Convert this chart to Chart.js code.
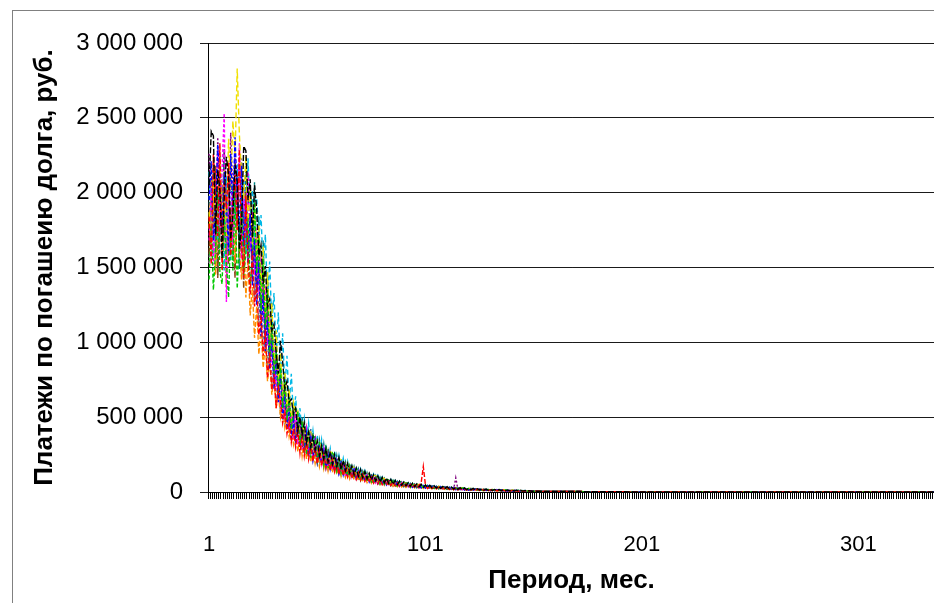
<!DOCTYPE html>
<html>
<head>
<meta charset="UTF-8">
<title>Платежи по погашению долга</title>
<script src="https://cdn.jsdelivr.net/npm/chart.js@4.4.0/dist/chart.umd.min.js"></script>
<style>
html, body { margin:0; padding:0; background:#fff; overflow:hidden; width:934px; height:603px; }
#frame { position:absolute; left:12px; top:10px; width:1000px; height:700px; border:1px solid #808080; }
#wrap { position:absolute; left:0; top:0; width:967px; height:640px; }
</style>
</head>
<body>
<div id="frame"></div>
<div id="wrap"><canvas id="myChart"></canvas></div>
<script>
// периоды 1..336 мес., подписи через каждые 100
var periods = [];
for (var p = 1; p <= 336; p++) periods.push(String(p));
var shownTicks = ['1', '101', '201', '301'];

// платежи, тыс. руб. (периоды 1-150), оценено по картинке
var s1 = [2050,2410,2380,1720,2150,2010,1560,1980,2240,2120,
1690,1850,2190,2080,1620,1780,2310,2280,1950,2090,
1700,2050,1890,1580,1650,1390,1510,1240,1290,1080,
1120,930,790,1010,870,690,740,600,620,520,
560,410,500,380,460,330,400,300,370,280,
340,240,310,220,290,200,270,185,250,170,
230,150,210,140,190,125,175,115,160,105,
150,95,138,88,125,82,115,74,108,68,
98,62,92,56,85,52,78,48,72,45,
66,41,62,38,58,35,54,33,52,31,
47,29,45,27,42,26,40,24,37,23,
35,21,33,20,31,18,29,17,27,16,
25,15,24,14,22,13,21,12,19,11,
17,10,17,10,16,9,15,8,13,8,
12,7,12,7,11,6,10,6,9,5];
var s2 = [1840,1520,2260,1950,1710,2330,1480,2060,1890,2200,
1580,1960,2120,1750,2290,1650,1430,1980,1560,1320,
1610,1240,1390,1050,1180,910,1080,760,930,680,
790,560,700,610,460,540,390,470,330,420,
300,420,260,380,240,345,220,320,205,290,
190,275,175,250,160,230,145,215,135,195,
120,180,110,165,100,150,92,140,85,128,
78,118,72,108,66,98,60,90,55,84,
50,78,46,72,43,66,40,62,37,57,
34,54,32,50,30,47,28,45,60,170,
45,24,38,23,35,21,33,20,31,19,
29,18,27,16,26,15,24,14,23,14,
21,13,20,11,19,10,17,10,16,9,
15,9,14,8,13,7,12,7,11,6,
10,6,9,5,9,5,8,5,8,4];
var s3 = [1420,1780,1350,1620,2010,1470,1390,1850,1540,1300,
1760,1480,2050,1360,1690,1920,1450,1600,1830,1390,
1520,1940,1460,1700,1210,1560,1100,1350,880,1120,
790,950,660,830,560,740,480,630,420,540,
560,530,310,470,270,260,410,230,380,350,
210,330,310,180,290,165,160,260,240,140,
215,125,200,190,108,175,100,96,155,148,
80,135,130,72,120,66,64,104,100,55,
90,52,84,80,45,74,42,41,68,65,
36,60,58,32,54,30,29,50,47,27,
45,25,42,41,23,38,21,21,35,33,
19,32,30,17,29,16,15,27,25,14,
24,13,23,22,12,20,11,10,18,17,
10,16,15,8,14,8,7,13,12,7,
12,6,11,10,5,9,5,5,8,8];
var s4 = [1950,2210,1680,1890,2320,2050,1760,2140,1930,1610,
2260,1880,2370,1990,1720,2180,1640,1910,1530,1860,
1380,1690,1250,1540,1040,1330,940,1150,820,1010,
690,880,600,770,480,650,420,560,360,480,
330,470,300,420,280,390,240,360,220,330,
200,300,185,275,165,250,155,230,140,210,
125,195,115,175,105,160,95,148,88,135,
82,124,75,115,68,104,62,96,57,88,
52,82,48,75,44,70,41,65,38,60,
35,56,33,52,31,48,29,46,27,43,
26,41,24,38,22,36,21,34,20,32,
18,30,17,28,16,26,15,24,14,23,
13,21,12,20,11,18,10,17,10,16,
9,15,8,14,8,13,7,12,7,11,
6,10,6,9,5,9,5,8,5,8];
var s5 = [1870,1640,2090,1760,1980,2230,1820,2150,1710,2360,
2010,2480,2240,2830,2390,2120,1960,2240,1780,2050,
1650,1930,1540,1790,1330,1640,1180,1470,1020,1260,
850,1080,720,930,620,800,540,690,470,600,
520,540,350,330,470,300,410,400,260,250,
350,340,215,205,300,190,270,260,165,160,
225,215,135,130,190,118,170,165,104,98,
145,138,86,82,122,76,112,108,66,63,
94,90,55,53,80,49,73,70,44,42,
64,61,37,36,55,33,51,50,30,29,
46,44,27,26,40,24,38,36,22,21,
33,32,20,19,29,18,28,26,16,15,
24,23,14,14,21,13,20,18,11,11,
17,17,10,10,15,9,13,13,8,7,
12,12,7,7,10,6,9,9,6,5];
var s6 = [1680,2040,1520,1890,2280,1760,2150,2530,1270,1940,
2180,1620,2070,1840,2330,1560,2010,1730,2140,1610,
1870,1450,1760,1320,1590,1150,1380,980,1190,840,
990,680,840,570,720,490,620,410,530,350,
540,320,490,290,300,420,250,380,230,345,
210,315,190,290,175,180,255,150,230,140,
210,125,195,115,112,170,100,152,92,140,
84,130,78,120,72,70,104,62,95,57,
88,52,81,48,46,72,42,67,39,62,
36,58,33,54,32,31,49,28,46,27,
44,25,41,24,23,37,21,34,20,33,
19,30,17,29,16,16,27,15,24,14,
23,13,21,12,12,19,11,17,10,17,
9,16,8,15,8,8,13,7,12,7,
11,6,11,5,5,9,5,8,5,8];
var s7 = [2140,1830,1570,2020,1690,2250,1940,1480,2110,1770,
1550,2060,1820,2190,1670,1930,2080,1590,2230,1810,
2020,1640,1960,1710,1850,1480,1720,1290,1540,1110,
1330,920,1200,790,1060,690,910,580,790,500,
640,420,560,370,490,340,460,300,410,270,
380,240,350,225,320,205,290,190,270,170,
245,155,225,140,205,130,185,118,170,108,
155,98,142,90,130,84,120,76,110,70,
100,64,92,58,85,54,78,50,72,46,
67,42,62,39,57,37,53,34,50,32,
47,30,44,28,42,27,39,25,37,23,
35,21,32,21,31,19,28,18,27,17,
26,16,23,15,22,14,21,13,20,12,
18,11,17,11,16,10,14,9,13,8,
13,8,12,7,11,7,10,6,9,6];
var s8 = [1760,2090,1930,1450,1820,2170,1660,1880,1370,2040,
1710,1950,1530,1860,1640,1420,1750,1300,1560,1180,
1370,1030,1240,920,1110,830,990,740,880,650,
770,560,680,500,590,430,510,370,440,320,
420,270,390,240,350,220,330,200,300,190,
270,170,250,155,230,140,210,130,190,118,
175,105,160,98,145,88,135,82,125,75,
115,68,105,63,96,58,88,53,82,49,
75,45,70,42,65,38,60,35,56,33,
52,31,50,29,46,27,44,26,41,24,
38,23,36,21,34,19,33,18,30,17,
28,16,26,15,25,14,24,13,22,12,
21,11,19,10,17,10,17,9,16,8,
15,8,13,7,12,7,12,6,11,6,
9,5,9,5,8,5,8,4,7,4];
var s9 = [2260,1880,2100,1590,2370,1950,1720,2290,2050,1830,
2400,1990,2250,1760,2210,1890,2090,1650,1980,1740,
1560,1810,1390,1600,1230,1440,1060,1270,920,1090,
730,900,640,780,560,680,480,590,420,510,
330,500,470,280,420,250,380,370,220,330,
200,300,290,175,265,160,240,235,140,210,
125,190,185,110,170,100,150,145,88,132,
80,122,118,72,108,66,98,95,56,86,
52,80,76,46,70,42,64,62,38,57,
34,54,52,32,49,30,45,44,27,41,
25,39,38,23,35,22,33,32,19,30,
18,29,28,17,95,16,24,23,14,22,
13,21,20,12,18,11,17,16,10,16,
9,15,14,8,12,8,12,11,7,11,
6,10,10,5,9,5,8,8,5,7];
var s10 = [1590,1950,1760,2180,1430,1860,2040,1690,1970,1520,
1900,1700,1430,2140,1580,1800,1360,2010,1640,1750,
1470,1680,1330,1520,1160,1390,1010,1220,900,1060,
780,930,690,810,600,710,520,620,450,540,
360,520,330,470,300,420,270,390,245,350,
220,320,200,295,185,270,170,245,155,225,
140,205,128,185,118,170,106,155,97,142,
88,130,82,120,75,110,69,100,63,92,
57,84,53,78,49,72,45,67,42,62,
38,57,36,53,33,50,32,47,29,44,
28,42,26,39,24,37,23,34,21,32,
20,30,19,28,18,27,16,25,15,23,
15,21,14,20,13,19,11,18,11,16,
11,15,10,14,9,13,8,12,7,11,
7,10,7,10,6,9,6,9,5,8];
var s11 = [1980,1620,2170,1830,1450,2060,1740,2290,1570,1910,
2200,1680,1870,2120,1490,2010,1790,2150,1920,2040,
1590,2070,1480,1840,1330,1680,1150,1460,960,1270,
820,1050,700,910,600,800,520,690,450,610,
380,540,350,500,320,450,280,420,255,380,
230,345,215,320,195,290,180,265,165,245,
148,220,135,200,125,185,112,168,102,155,
94,140,86,130,80,120,73,110,67,100,
61,92,56,85,52,78,48,72,44,67,
41,62,38,58,35,54,33,51,31,48,
29,45,28,42,26,39,24,37,22,35,
21,33,20,31,18,29,17,27,16,25,
15,24,14,22,13,21,12,19,11,17,
11,17,10,16,9,15,8,13,8,12,
7,12,7,11,6,10,6,9,6,8];
var s12 = [1530,1860,2240,1710,2010,1590,1920,2180,1480,1800,
1950,1560,2100,1780,1900,2230,1610,1840,1450,1700,
1940,1300,1700,1120,1460,950,1250,820,1070,700,
900,600,780,510,670,450,590,400,530,360,
480,330,430,290,390,270,360,240,330,220,
300,200,275,185,250,170,230,155,210,140,
190,128,175,116,160,106,145,97,132,90,
122,82,113,75,104,69,95,63,86,58,
80,53,74,49,68,46,63,42,58,39,
54,36,50,34,48,32,44,30,42,28,
39,27,37,25,34,23,32,21,31,20,
28,19,27,18,25,17,23,15,22,15,
21,14,20,13,18,12,16,11,16,10,
15,9,14,9,12,8,11,8,11,7,
10,7,9,6,9,6,8,5,7,5];

// хвост, периоды 151-336, тыс. руб. (почти ноль)
var tailK = [5,5,5,5,4,4,4,4,4,4,4,3,3,3,3,3,3,3,3,3,
3,3,3,2,2,2,2,2,2,2,2,2,2,2,2,2,2,2,2,2,
2,2,2,2,1,1,1,1,1,1,1,1,1,1,1,1,1,1,1,1,
1,1,1,1,1,1,1,1,1,1,1,1,1,1,1,1,1,1,1,1,
1,1,1,1,1,1,1,1,1,1,1,1,1,1,1,1,1,1,1,1,
1,1,1,1,1,1,1,1,1,1,0,0,0,0,0,0,0,0,0,0,
0,0,0,0,0,0,0,0,0,0,0,0,0,0,0,0,0,0,0,0,
0,0,0,0,0,0,0,0,0,0,0,0,0,0,0,0,0,0,0,0,
0,0,0,0,0,0,0,0,0,0,0,0,0,0,0,0,0,0,0,0,
0,0,0,0,0,0];

var seriesList = [s1, s2, s3, s4, s5, s6, s7, s8, s9, s10, s11, s12];
var colors = ['#000000','#ff0000','#00c800','#0000ff','#f0e000','#ff00ff','#00b8e6','#ff8c00','#800080','#8b4513','#008080','#808080'];
// штрихи как в Excel при большом числе рядов
var dashes = [[6,2], [5,2], [4,2], [4,2], [6,3], [3,2], [5,3], [5,2], [2,2], [6,2], [4,2], [3,3]];

var fontFamily = "'Liberation Sans', Arial, sans-serif";

function fmtRub(v) {
	return String(v).replace(/\B(?=(\d{3})+(?!\d))/g, ' ');
}

var datasets = [];
for (var i = 0; i < seriesList.length; i++) {
	datasets.push({
		data: seriesList[i].concat(tailK).map(function(v) { return v * 1000; }),
		borderColor: colors[i],
		borderWidth: 1.4,
		borderDash: dashes[i],
		pointRadius: 0,
		fill: false
	});
}

var ctx = document.getElementById('myChart').getContext('2d');
var myChart = new Chart(ctx, {
	type: 'line',
	data: { labels: periods, datasets: datasets },
	options: {
		responsive: true,
		maintainAspectRatio: false,
		animation: false,
		layout: { padding: { left: 0, right: 0, top: 43, bottom: 0 } },
		plugins: { legend: { display: false }, tooltip: { enabled: false } },
		elements: { line: { tension: 0 } },
		scales: {
			x: {
				offset: true,
				grid: { offset: true, drawOnChartArea: false, drawTicks: true, tickLength: 7, color: '#000', lineWidth: 1 },
				border: { display: true, color: '#000', width: 1 },
				ticks: {
					autoSkip: false, maxRotation: 0, minRotation: 0, padding: 33, color: '#000',
					font: { family: fontFamily, size: 22 },
					callback: function(value, index) {
						var lab = periods[index];
						return shownTicks.indexOf(lab) >= 0 ? lab : '';
					}
				},
				title: {
					display: true, text: 'Период, мес.', color: '#000',
					font: { family: fontFamily, size: 26, weight: 'bold' },
					padding: { top: 0, bottom: 44 }
				},
				afterFit: function(scale) { scale.height = 148; }
			},
			y: {
				min: 0,
				max: 3000000,
				ticks: {
					stepSize: 500000, padding: 17, color: '#000',
					font: { family: fontFamily, size: 24 },
					callback: function(v) { return fmtRub(v); }
				},
				grid: { color: '#1a1a1a', lineWidth: 1, drawTicks: true, tickLength: 8 },
				border: { display: true, color: '#000', width: 1 },
				title: {
					display: true, text: 'Платежи по погашеию долга, руб.', color: '#000',
					font: { family: fontFamily, size: 26, weight: 'bold' },
					padding: { top: 29, bottom: 0 }
				},
				afterFit: function(scale) { scale.width = 208; }
			}
		}
	}
});
</script>
</body>
</html>
